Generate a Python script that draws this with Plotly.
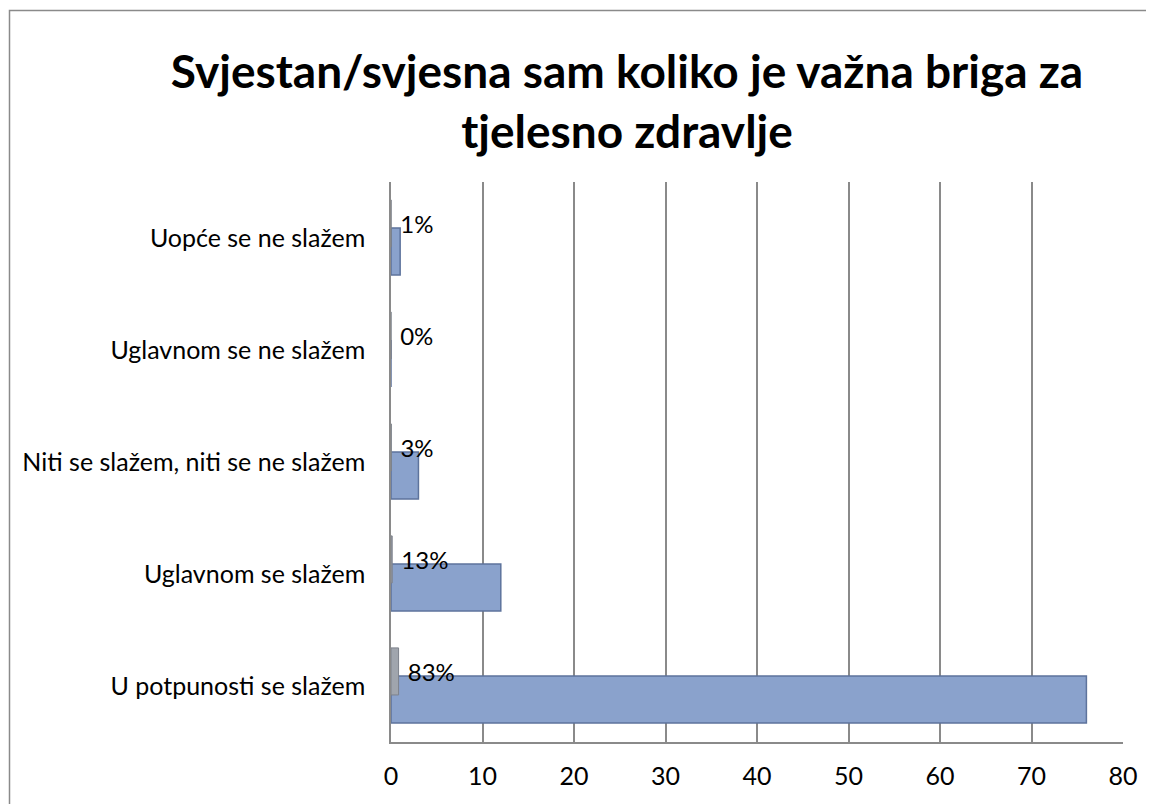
import plotly.graph_objects as go

categories = ["U potpunosti se slažem", "Uglavnom se slažem", "Niti se slažem, niti se ne slažem",
              "Uglavnom se ne slažem", "Uopće se ne slažem"]
counts = [76, 12, 3, 0, 1]
shares = [0.83, 0.13, 0.03, 0.0, 0.01]
share_labels = ["83%", "13%", "3%", "0%", "1%"]
x_ticks = [0, 10, 20, 30, 40, 50, 60, 70, 80]

FONT = "Lato"
OFF = 8  # page body margin
W, H = 1154 - OFF, 804 - OFF
L, T = 391 - OFF, 182 - OFF
R = 1154 - 1123
B = 804 - 742
pw, ph = W - L - R, H - T - B

fig = go.Figure()
fig.add_trace(go.Bar(
    y=categories, x=counts, orientation="h",
    width=0.42, offset=-0.33,
    marker=dict(color="#8aa2cc", line=dict(color="#5d739c", width=1.5)),
    hoverinfo="x+y", showlegend=False,
))
fig.add_trace(go.Bar(
    y=categories, x=shares, orientation="h",
    width=0.42, offset=-0.08,
    marker=dict(color="#a0a5ad", line=dict(color="#7d828b", width=1)),
    text=share_labels, texttemplate="\u00a0%{text}", textposition="outside", cliponaxis=False,
    textfont=dict(family=FONT, size=24, color="black"),
    hoverinfo="skip", showlegend=False,
))

fig.update_layout(
    width=W, height=H,
    margin=dict(l=L, r=R, t=T, b=B, autoexpand=False),
    paper_bgcolor="white", plot_bgcolor="white",
    font=dict(family=FONT, size=25, color="black"),
    barmode="overlay",
    title=dict(text="<b>Svjestan/svjesna sam koliko je važna briga za<br>tjelesno zdravlje</b>",
               x=(627 - OFF) / W, xanchor="center",
               y=1 - (88 - OFF) / H, yanchor="middle",
               font=dict(family=FONT, size=46, color="black")),
    xaxis=dict(range=[0, 80], tickvals=x_ticks, showgrid=True, gridcolor="#8a8a8a", gridwidth=1.5,
               showline=True, linecolor="#8a8a8a", linewidth=1.5, zeroline=False,
               ticks="", ticklabelstandoff=11, tickfont=dict(family=FONT, size=25)),
    yaxis=dict(categoryorder="array", categoryarray=categories, range=[-0.5, 4.5],
               showline=True, linecolor="#8a8a8a", linewidth=1.5, showgrid=False,
               ticks="", ticklabelstandoff=19, tickfont=dict(family=FONT, size=25)),
    shapes=[dict(type="rect", xref="paper", yref="paper",
                 x0=(9.5 - OFF - L) / pw, x1=(1150.5 - OFF - L) / pw,
                 y0=-0.2, y1=(H - B - (10.5 - OFF)) / ph,
                 line=dict(color="#8a8a8a", width=1.5), layer="below")],
)

fig.write_html("out.html")
